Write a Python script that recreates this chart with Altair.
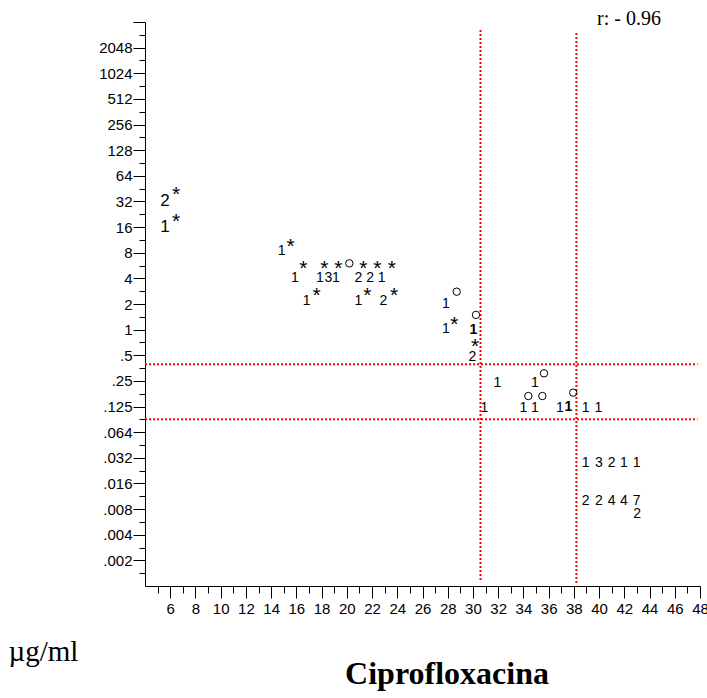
import json
import altair as alt
import pandas as pd

AXFONT = "Liberation Sans Narrow, Arial Narrow, Liberation Sans, Arial, sans-serif"
SANS = "Liberation Sans, Arial, sans-serif"
SERIF = "Liberation Serif, Times New Roman, serif"

# ---- count labels (regular) ----
dig_x = [14.84,
         15.89, 17.87, 18.53, 19.14, 20.91, 21.84, 22.77,
         16.82, 20.91, 22.89,
         27.86, 27.86, 29.95,
         31.93, 34.92,
         30.90, 33.99, 34.92, 36.90, 38.94, 39.94,
         38.94, 39.99, 41.00, 41.97, 42.98,
         38.94, 39.99, 41.00, 41.97, 42.98,
         43.02]
dig_y = [8.6,
         4.1, 4.1, 4.1, 4.1, 4.1, 4.1, 4.1,
         2.23, 2.23, 2.23,
         2.04, 1.04, 0.49,
         0.245, 0.245,
         0.1225, 0.1225, 0.1225, 0.1225, 0.1225, 0.1225,
         0.0281, 0.0281, 0.0281, 0.0281, 0.0281,
         0.0100, 0.0100, 0.0100, 0.0100, 0.0100,
         0.00698]
dig_t = ["1",
         "1", "1", "3", "1", "2", "2", "1",
         "1", "1", "2",
         "1", "1", "2",
         "1", "1",
         "1", "1", "1", "1", "1", "1",
         "1", "3", "2", "1", "1",
         "2", "2", "4", "4", "7",
         "2"]

# ---- count labels drawn heavier ----
bold_x = [30.03, 37.56]
bold_y = [1.01, 0.127]
bold_t = ["1", "1"]

# ---- large labels at the left ----
big_x = [5.59, 5.59]
big_y = [33.0, 16.5]
big_t = ["2", "1"]

# ---- asterisks ----
star_x = [6.46, 6.46, 15.55,
          16.55, 18.21, 19.32, 21.31, 22.42, 23.56,
          17.61, 21.62, 23.74,
          28.52, 30.16]
star_y = [44.8, 21.6, 11.1,
          6.0, 6.0, 6.0, 6.0, 6.0, 6.0,
          2.92, 2.92, 2.92,
          1.32, 0.742]

# ---- open circles ----
circ_x = [20.20, 28.71, 30.24, 35.63, 34.39, 35.50, 37.95]
circ_y = [6.0, 2.79, 1.49, 0.307, 0.166, 0.166, 0.182]

# ---- breakpoint lines ----
vline_x = [30.6, 38.2]
vline_top = [3300, 3040]
vline_bot = [0.00112, 0.001]
hline_y = [0.392, 0.0884]
hline_x0 = [4.0, 4.0]
hline_x1 = [47.8, 47.8]

# ---- correlation note ----
note_x = [42.37]
note_y = [3776]
note_t = ["r: - 0.96"]

# ---- axes ----
x_major = list(range(6, 49, 2))
x_minor = list(range(5, 48, 2))
y_exp_major = list(range(-9, 13))
y_labels = [".002", ".004", ".008", ".016", ".032", ".064", ".125", ".25", ".5",
            "1", "2", "4", "8", "16", "32", "64", "128", "256", "512", "1024", "2048", ""]
y_major = [2.0 ** k for k in y_exp_major]
y_minor = [2.0 ** (k + 0.5) for k in range(-10, 12)]

df_dig = pd.DataFrame({"x": dig_x, "y": dig_y, "t": dig_t})
df_bold = pd.DataFrame({"x": bold_x, "y": bold_y, "t": bold_t})
df_big = pd.DataFrame({"x": big_x, "y": big_y, "t": big_t})
df_star = pd.DataFrame({"x": star_x, "y": star_y})
df_circ = pd.DataFrame({"x": circ_x, "y": circ_y})
df_v = pd.DataFrame({"x": vline_x, "top": vline_top, "bot": vline_bot})
df_h = pd.DataFrame({"y": hline_y, "x0": hline_x0, "x1": hline_x1})
df_note = pd.DataFrame({"x": note_x, "y": note_y, "t": note_t})

xs = alt.Scale(domain=[4, 48], nice=False, zero=False)
ys = alt.Scale(type="log", base=2, domain=[2.0 ** -10, 2.0 ** 12], nice=False)

label_expr = json.dumps(y_labels) + "[round(log(datum.value)/log(2))+9]"

main_x = alt.Axis(values=x_major, orient="bottom", tickSize=12, tickColor="black",
                  domainColor="black", labelFont=AXFONT, labelFontSize=15,
                  labelColor="black", labelPadding=3, labelFlush=False,
                  labelOverlap=False, grid=False,
                  title="Ciprofloxacina", titleFont=SERIF, titleFontSize=32,
                  titleFontWeight="bold", titleColor="black", titleX=301.5,
                  titleY=97, titleAlign="center", titleBaseline="alphabetic")
minor_x = alt.Axis(values=x_minor, orient="bottom", tickSize=7, tickColor="black",
                   labels=False, domain=False, grid=False, title="")
main_y = alt.Axis(values=y_major, orient="left", labelExpr=label_expr, tickSize=12,
                  tickColor="black", domainColor="black", labelFont=AXFONT,
                  labelFontSize=15, labelColor="black", labelPadding=1,
                  labelFlush=False, labelOverlap=False, grid=False,
                  title="µg/ml", titleAngle=0, titleAlign="left",
                  titleBaseline="alphabetic", titleX=-137, titleY=638,
                  titleFont=SERIF, titleFontSize=29, titleFontWeight="normal",
                  titleColor="black")
minor_y = alt.Axis(values=y_minor, orient="left", tickSize=6, tickColor="black",
                   labels=False, domain=False, grid=False, title="")

RED = "#ff0000"

vlines = alt.Chart(df_v).mark_rule(color=RED, strokeDash=[2, 2], strokeWidth=2).encode(
    x=alt.X("x:Q", scale=xs, axis=None),
    y=alt.Y("top:Q", scale=ys, axis=None),
    y2="bot:Q",
)
hlines = alt.Chart(df_h).mark_rule(color=RED, strokeDash=[2, 2], strokeWidth=2).encode(
    y=alt.Y("y:Q", scale=ys, axis=None),
    x=alt.X("x0:Q", scale=xs, axis=None),
    x2="x1:Q",
)
digits = alt.Chart(df_dig).mark_text(font=SANS, fontSize=14, baseline="middle", dy=1,
                                     color="black").encode(
    x=alt.X("x:Q", scale=xs, axis=main_x),
    y=alt.Y("y:Q", scale=ys, axis=main_y),
    text="t:N",
)
bolds = alt.Chart(df_bold).mark_text(font=SANS, fontSize=14, fontWeight="bold",
                                     baseline="middle", dy=1, color="black").encode(
    x=alt.X("x:Q", scale=xs, axis=None),
    y=alt.Y("y:Q", scale=ys, axis=None),
    text="t:N",
)
bigs = alt.Chart(df_big).mark_text(font=SANS, fontSize=17, baseline="middle", dy=1,
                                   color="black").encode(
    x=alt.X("x:Q", scale=xs, axis=None),
    y=alt.Y("y:Q", scale=ys, axis=None),
    text="t:N",
)
stars = alt.Chart(df_star).mark_text(text="*", font=SANS, fontSize=21, baseline="middle",
                                     dy=6, color="black").encode(
    x=alt.X("x:Q", scale=xs, axis=minor_x),
    y=alt.Y("y:Q", scale=ys, axis=minor_y),
)
circles = alt.Chart(df_circ).mark_point(shape="circle", filled=False, size=55,
                                        color="black", strokeWidth=1, opacity=1).encode(
    x=alt.X("x:Q", scale=xs, axis=None),
    y=alt.Y("y:Q", scale=ys, axis=None),
)
note = alt.Chart(df_note).mark_text(font=SERIF, fontSize=20, baseline="alphabetic",
                                    align="center", color="black").encode(
    x=alt.X("x:Q", scale=xs, axis=None),
    y=alt.Y("y:Q", scale=ys, axis=None),
    text="t:N",
)

chart = alt.layer(vlines, hlines, digits, bolds, bigs, stars, circles, note).resolve_axis(
    x="independent", y="independent"
).properties(
    width=555,
    height=564,
    autosize=alt.AutoSizeParams(type="none"),
    padding={"left": 145, "top": 22, "right": 7, "bottom": 112},
    background="white",
).configure_view(strokeWidth=0)

chart.save("out.html", embed_options={"renderer": "svg", "actions": False})
